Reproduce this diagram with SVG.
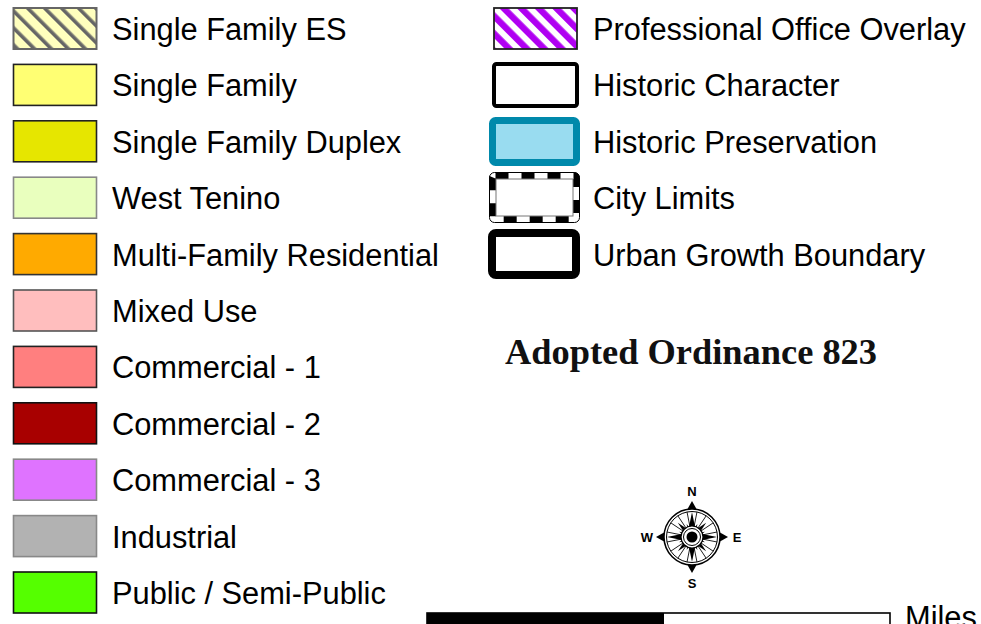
<svg xmlns="http://www.w3.org/2000/svg" xmlns:xlink="http://www.w3.org/1999/xlink" width="981" height="624" viewBox="0 0 981 624">
<style>
.lbl{font-family:"Liberation Sans",Arial,sans-serif;font-size:30.8px;fill:#000}
.sw{stroke-width:1.6}
.dir{font-family:"Liberation Sans",Arial,sans-serif;font-size:13px;font-weight:bold;fill:#000;text-anchor:middle}
.title{font-family:"Liberation Serif","Times New Roman",serif;font-size:35px;font-weight:bold;fill:#111}
</style>
<defs>
<pattern id="hatchES" width="12" height="12" patternUnits="userSpaceOnUse" patternTransform="rotate(-45)">
<rect width="12" height="12" fill="#ffffbe"/>
<rect x="0" width="3.6" height="12" fill="#666"/>
</pattern>
<pattern id="hatchPO" width="12.4" height="12.4" patternUnits="userSpaceOnUse" patternTransform="rotate(-45)">
<rect width="12.4" height="12.4" fill="#fff"/>
<rect x="0" width="6.4" height="12.4" fill="#b000f2"/>
</pattern>
<path id="pCard" d="M0,-25 L4.2,-4.2 L0,0 L-4.2,-4.2 Z"/>
<path id="pInter" d="M0,-20 L3.4,-3.4 L0,0 L-3.4,-3.4 Z"/>
<path id="pMinor" d="M0,-14 L2,-5 L0,0 L-2,-5 Z"/>
<path id="pArrow" d="M0,-36 L4.5,-28 L-4.5,-28 Z"/>
</defs>
<rect width="981" height="624" fill="#fff"/>

<g id="single-family-es"><rect x="13.5" y="8" width="83" height="41" fill="url(#hatchES)" stroke="#666" stroke-width="2"/><text class="lbl" x="112" y="40">Single Family ES</text></g>
<g id="single-family"><rect class="sw" x="13.5" y="64.4" width="83" height="41" fill="#ffff73" stroke="#222"/><text class="lbl" x="112" y="96.4">Single Family</text></g>
<g id="single-family-duplex"><rect class="sw" x="13.5" y="120.8" width="83" height="41" fill="#e6e600" stroke="#222"/><text class="lbl" x="112" y="152.8">Single Family Duplex</text></g>
<g id="west-tenino"><rect class="sw" x="13.5" y="177.2" width="83" height="41" fill="#e9ffbe" stroke="#888"/><text class="lbl" x="112" y="209.2">West Tenino</text></g>
<g id="multi-family"><rect class="sw" x="13.5" y="233.6" width="83" height="41" fill="#ffaa00" stroke="#333"/><text class="lbl" x="112" y="265.6">Multi-Family Residential</text></g>
<g id="mixed-use"><rect class="sw" x="13.5" y="290" width="83" height="41" fill="#ffbebe" stroke="#555"/><text class="lbl" x="112" y="322">Mixed Use</text></g>
<g id="commercial-1"><rect class="sw" x="13.5" y="346.4" width="83" height="41" fill="#ff7f7f" stroke="#222"/><text class="lbl" x="112" y="378.4">Commercial - 1</text></g>
<g id="commercial-2"><rect class="sw" x="13.5" y="402.8" width="83" height="41" fill="#a80000" stroke="#111"/><text class="lbl" x="112" y="434.8">Commercial - 2</text></g>
<g id="commercial-3"><rect class="sw" x="13.5" y="459.2" width="83" height="41" fill="#df73ff" stroke="#888"/><text class="lbl" x="112" y="491.2">Commercial - 3</text></g>
<g id="industrial"><rect class="sw" x="13.5" y="515.6" width="83" height="41" fill="#b2b2b2" stroke="#888"/><text class="lbl" x="112" y="547.6">Industrial</text></g>
<g id="public-semi-public"><rect class="sw" x="13.5" y="572" width="83" height="41" fill="#55ff00" stroke="#111"/><text class="lbl" x="112" y="604">Public / Semi-Public</text></g>

<g id="professional-office-overlay"><rect x="494" y="8" width="83" height="41" fill="url(#hatchPO)" stroke="#222" stroke-width="1.8"/><text class="lbl" x="593" y="40">Professional Office Overlay</text></g>
<g id="historic-character"><rect x="494" y="64" width="83" height="42" rx="2.5" fill="#fff" stroke="#000" stroke-width="4"/><text class="lbl" x="593" y="96.4">Historic Character</text></g>
<g id="historic-preservation"><rect x="492.5" y="120.5" width="84" height="42" rx="3" fill="#99dcf0" stroke="#0089ab" stroke-width="7"/><text class="lbl" x="593" y="152.8">Historic Preservation</text></g>
<g id="city-limits">
<rect x="492.5" y="175.5" width="84" height="44" rx="3" fill="#fff" stroke="#fff" stroke-width="7"/>
<rect x="492.5" y="175.5" width="84" height="44" rx="3" fill="none" stroke="#000" stroke-width="7" stroke-dasharray="13 13"/>
<rect x="489.5" y="172.5" width="90" height="50" rx="5" fill="none" stroke="#000" stroke-width="1"/>
<rect x="496" y="179" width="77" height="37" fill="none" stroke="#777" stroke-width="1"/>
<text class="lbl" x="593" y="209.2">City Limits</text></g>
<g id="urban-growth-boundary"><rect x="492" y="233" width="84" height="42" rx="4" fill="#fff" stroke="#000" stroke-width="8"/><text class="lbl" x="593" y="265.6">Urban Growth Boundary</text></g>

<g id="title"><text class="title" x="505" y="364" textLength="372" lengthAdjust="spacingAndGlyphs">Adopted Ordinance 823</text></g>

<g id="compass" transform="translate(692,537)">
<circle r="28" fill="#fff" stroke="#000" stroke-width="1.5"/>
<circle r="25.5" fill="none" stroke="#000" stroke-width="1"/>
<g stroke="#000" stroke-width="0.8">
<line x1="0" y1="-11" x2="0" y2="-25.5" transform="rotate(11.25)"/>
<line x1="0" y1="-11" x2="0" y2="-25.5" transform="rotate(33.75)"/>
<line x1="0" y1="-11" x2="0" y2="-25.5" transform="rotate(56.25)"/>
<line x1="0" y1="-11" x2="0" y2="-25.5" transform="rotate(78.75)"/>
<line x1="0" y1="-11" x2="0" y2="-25.5" transform="rotate(101.25)"/>
<line x1="0" y1="-11" x2="0" y2="-25.5" transform="rotate(123.75)"/>
<line x1="0" y1="-11" x2="0" y2="-25.5" transform="rotate(146.25)"/>
<line x1="0" y1="-11" x2="0" y2="-25.5" transform="rotate(168.75)"/>
<line x1="0" y1="-11" x2="0" y2="-25.5" transform="rotate(191.25)"/>
<line x1="0" y1="-11" x2="0" y2="-25.5" transform="rotate(213.75)"/>
<line x1="0" y1="-11" x2="0" y2="-25.5" transform="rotate(236.25)"/>
<line x1="0" y1="-11" x2="0" y2="-25.5" transform="rotate(258.75)"/>
<line x1="0" y1="-11" x2="0" y2="-25.5" transform="rotate(281.25)"/>
<line x1="0" y1="-11" x2="0" y2="-25.5" transform="rotate(303.75)"/>
<line x1="0" y1="-11" x2="0" y2="-25.5" transform="rotate(326.25)"/>
<line x1="0" y1="-11" x2="0" y2="-25.5" transform="rotate(348.75)"/>
</g>
<g fill="#000">
<use xlink:href="#pMinor" transform="rotate(22.5)"/><use xlink:href="#pMinor" transform="rotate(67.5)"/>
<use xlink:href="#pMinor" transform="rotate(112.5)"/><use xlink:href="#pMinor" transform="rotate(157.5)"/>
<use xlink:href="#pMinor" transform="rotate(202.5)"/><use xlink:href="#pMinor" transform="rotate(247.5)"/>
<use xlink:href="#pMinor" transform="rotate(292.5)"/><use xlink:href="#pMinor" transform="rotate(337.5)"/>
<use xlink:href="#pInter" transform="rotate(45)"/><use xlink:href="#pInter" transform="rotate(135)"/>
<use xlink:href="#pInter" transform="rotate(225)"/><use xlink:href="#pInter" transform="rotate(315)"/>
<use xlink:href="#pCard"/><use xlink:href="#pCard" transform="rotate(90)"/>
<use xlink:href="#pCard" transform="rotate(180)"/><use xlink:href="#pCard" transform="rotate(270)"/>
<use xlink:href="#pArrow"/><use xlink:href="#pArrow" transform="rotate(90)"/>
<use xlink:href="#pArrow" transform="rotate(180)"/><use xlink:href="#pArrow" transform="rotate(270)"/>
</g>
<circle r="11" fill="#fff" stroke="#000" stroke-width="1.2"/>
<circle r="8.5" fill="#fff" stroke="#000" stroke-width="1"/>
<circle r="5.5" fill="#000"/>
<text class="dir" x="0" y="-41">N</text>
<text class="dir" x="0" y="51">S</text>
<text class="dir" x="-45" y="5">W</text>
<text class="dir" x="45" y="5">E</text>
</g>

<g id="scale-bar">
<rect x="427" y="613" width="463" height="20" fill="#fff" stroke="#000" stroke-width="1.6"/>
<rect x="427" y="613" width="237" height="20" fill="#000"/>
<text class="lbl" x="905" y="628">Miles</text>
</g>
</svg>
